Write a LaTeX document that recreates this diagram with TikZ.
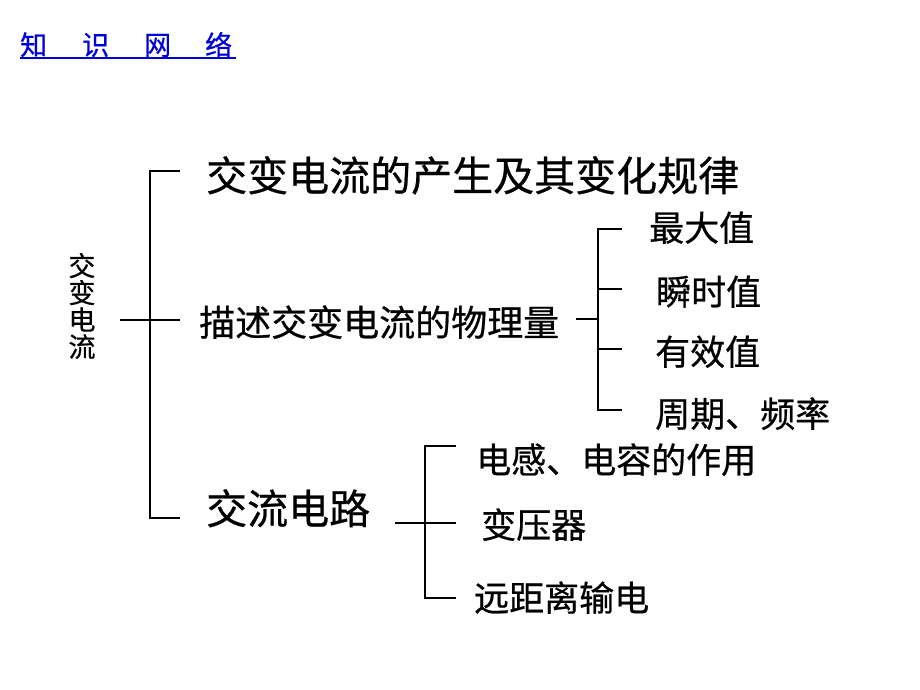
\documentclass[tikz,border=0pt]{standalone}
\usepackage{fontspec}
\setmainfont{Noto Sans CJK SC}[FakeBold=0.6]
\begin{document}
\begin{tikzpicture}[x=1pt,y=-1pt,
    txt/.style={anchor=base west,inner sep=0pt},
    big/.style={txt,font=\fontsize{41}{41}\selectfont},
    mid/.style={txt,font=\fontsize{35}{35}\selectfont},
    brk/.style={draw,line width=2pt}]
    \useasboundingbox[fill=white] (0,0) rectangle (920,690);

    % the title
    \node[txt,text=blue!85!black,font=\fontsize{27}{27}\selectfont]
    (title) at (20,55) {知\hspace{35pt}识\hspace{35pt}网\hspace{34pt}络};
    \draw[blue!85!black,line width=1.2pt] (title.base west) ++(0,3) -- ++(216,0);

    % the texts
    \node[align=center,inner sep=0pt,font=\fontsize{27}{27}\selectfont]
    (acdc) at (82,306) {交\\变\\电\\流};
    \node[big] (gen) at (206,191) {交变电流的产生及其变化规律};
    \node[mid,font=\fontsize{36}{36}\selectfont] (qty) at (199,336) {描述交变电流的物理量};
    \node[big] (circ) at (206,524) {交流电路};

    \node[mid] (peak) at (649,241) {最大值};
    \node[mid] (inst) at (656,305) {瞬时值};
    \node[mid] (rms) at (655,365) {有效值};
    \node[mid] (freq) at (655,427) {周期、频率};

    \node[mid] (lc) at (476,473) {电感、电容的作用};
    \node[mid] (trans) at (481,538) {变压器};
    \node[mid] (dist) at (474,611) {远距离输电};

    % the brackets
    \coordinate (r0) at (120,320);
    \coordinate (r1) at (150,171);
    \coordinate (r2) at (150,320);
    \coordinate (r3) at (150,518);
    \coordinate (s1) at (180,171);
    \coordinate (s2) at (180,320);
    \coordinate (s3) at (180,518);
    \draw[brk] (s1) -- (r1) -- (r3) -- (s3);
    \draw[brk] (r0) -- (s2);

    \coordinate (q0) at (576,319);
    \coordinate (q1) at (598,229);
    \coordinate (q4) at (598,410);
    \coordinate (t1) at (622,229);
    \coordinate (t2) at (622,289);
    \coordinate (t3) at (622,349);
    \coordinate (t4) at (622,410);
    \draw[brk] (t1) -- (q1) -- (q4) -- (t4);
    \draw[brk] (q0) -- (q0-|q1);
    \draw[brk] (t2) -- (t2-|q1);
    \draw[brk] (t3) -- (t3-|q1);

    \coordinate (c0) at (395,523);
    \coordinate (c1) at (425,446);
    \coordinate (c3) at (425,598);
    \coordinate (u1) at (456,446);
    \coordinate (u2) at (456,523);
    \coordinate (u3) at (456,598);
    \draw[brk] (u1) -- (c1) -- (c3) -- (u3);
    \draw[brk] (c0) -- (u2);
\end{tikzpicture}
\end{document}
